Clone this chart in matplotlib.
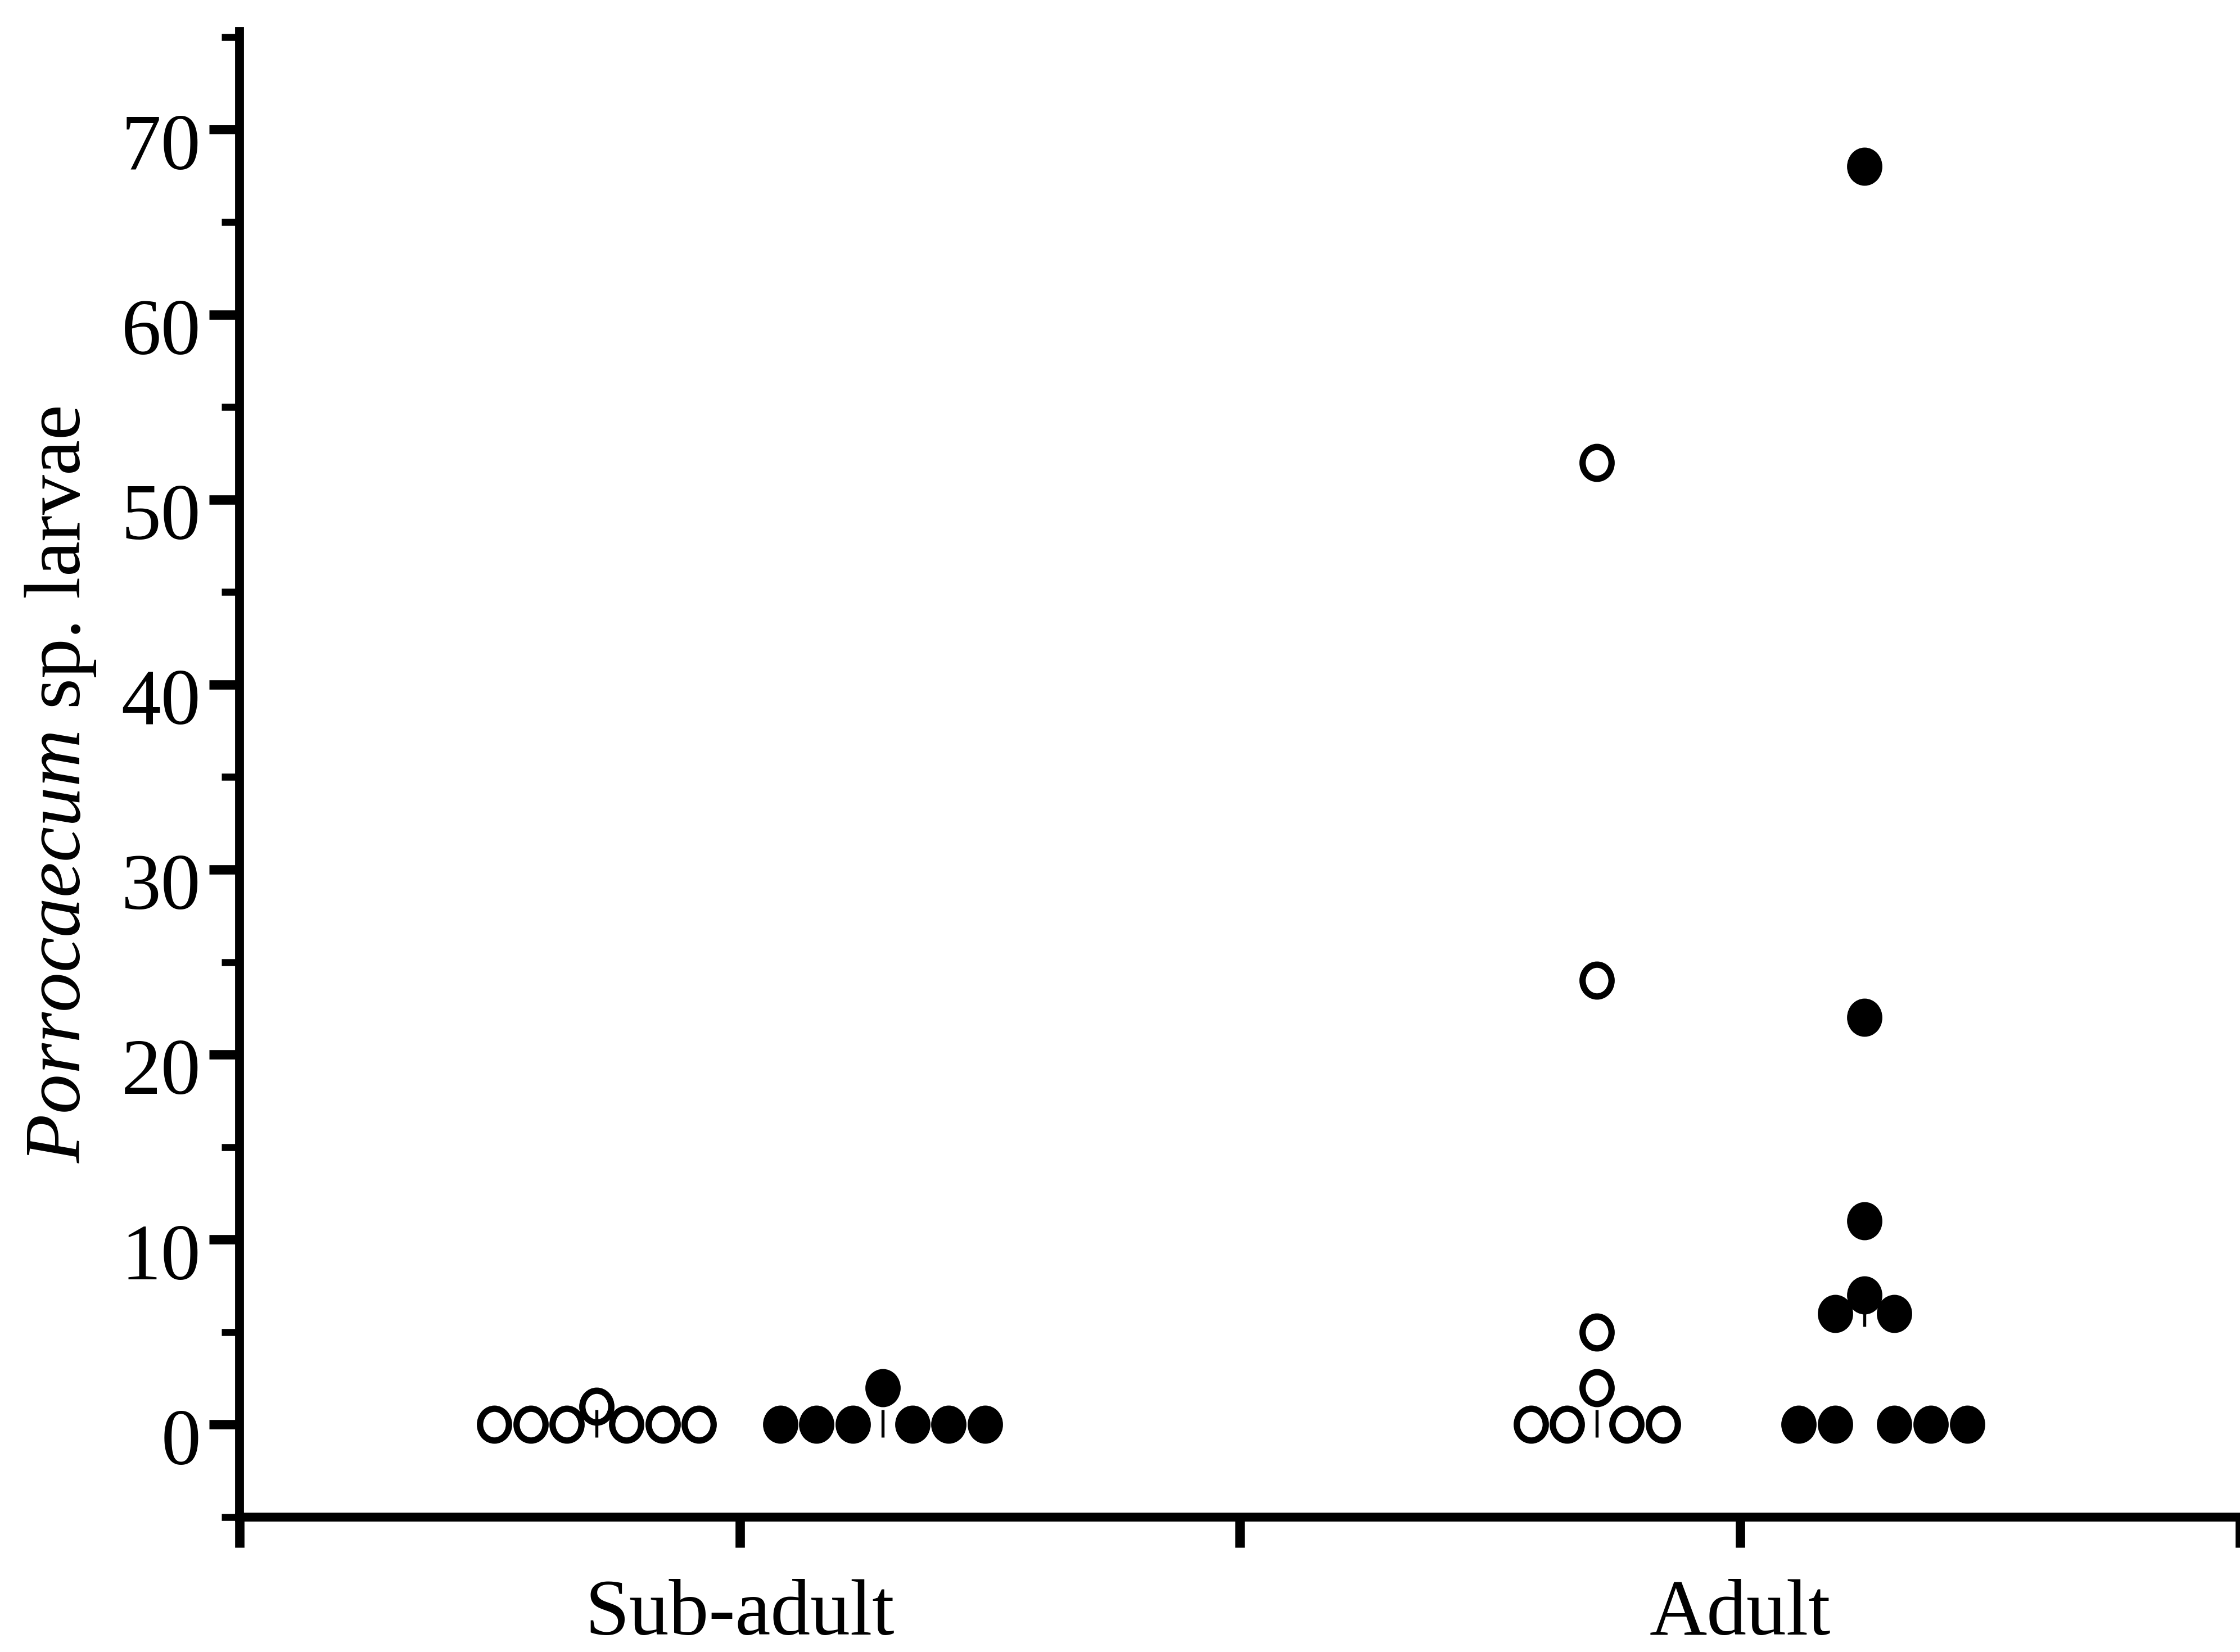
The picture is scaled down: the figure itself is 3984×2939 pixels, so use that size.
import numpy as np
import matplotlib
matplotlib.use('Agg')
import matplotlib.pyplot as plt
from matplotlib.path import Path
from matplotlib.markers import MarkerStyle
from matplotlib.transforms import Affine2D, ScaledTranslation
from matplotlib.ticker import FixedLocator, MultipleLocator

# ---------------- data ----------------
categories = ['Sub-adult', 'Adult']
sub_adult_open = [0, 0, 0, 0, 0, 0, 1]
sub_adult_filled = [0, 0, 0, 0, 0, 0, 2]
adult_open = [0, 0, 0, 0, 2, 5, 24, 52]
adult_filled = [0, 0, 0, 0, 0, 6, 6, 7, 11, 22, 68]
y_ticks = [0, 10, 20, 30, 40, 50, 60, 70]
y_label = r'$\mathit{Porrocaecum}$' + ' sp. larvae'

# ---------------- style ----------------
plt.rcParams['font.family'] = ['Liberation Serif', 'DejaVu Serif']
plt.rcParams['mathtext.fontset'] = 'custom'
plt.rcParams['mathtext.it'] = 'Liberation Serif:italic'
plt.rcParams['mathtext.rm'] = 'Liberation Serif'

W, H, DPI = 3984, 2939, 300
FS = 34
fig = plt.figure(figsize=(W / DPI, H / DPI), dpi=DPI)
ax_left = 426 / W
ax_bottom = (H - 2699) / H
ax_w = 1 - ax_left
ax_h = (2699 - 56) / H
ax = fig.add_axes([ax_left, ax_bottom, ax_w, ax_h])
ax.set_xlim(0.5, 2.5)
ax.set_ylim(-5, 75.3)

px_per_x = ax_w * W / 2.0
gap_px, step_px = 52.7, 64.8
dodge = 0.143

ell = Path.unit_circle().transformed(Affine2D().scale(1.0, 1.1))
marker = MarkerStyle(ell)


def swarm(vals, center_x):
    vals = np.asarray(vals, float)
    offs = np.zeros(len(vals))
    for v in np.unique(vals):
        idx = np.where(vals == v)[0]
        n = len(idx)
        if n == 1:
            continue
        nl = n // 2
        nr = n - nl
        o = [-(gap_px + k * step_px) for k in range(nl)][::-1] + \
            [gap_px + k * step_px for k in range(nr)]
        offs[idx] = o
    shift = (offs.min() + offs.max()) / 2
    c = center_x - shift / px_per_x
    return c + offs / px_per_x, c


groups = [
    (1, -dodge, sub_adult_open, 'white'),
    (1, +dodge, sub_adult_filled, 'black'),
    (2, -dodge, adult_open, 'white'),
    (2, +dodge, adult_filled, 'black'),
]

for cat_x, off, vals, face in groups:
    xs, c = swarm(vals, cat_x + off)
    ax.plot(xs, vals, ls='none', marker=marker, ms=13.6, mew=2.7,
            mfc=face, mec='black', zorder=3, clip_on=False)
    med = np.percentile(vals, 50, method='lower')
    ax.plot([c, c], [med - 0.7, med + 0.8], color='black', lw=1.3,
            zorder=4, solid_capstyle='butt')

# ---------------- axes ----------------
for s in ['top', 'right']:
    ax.spines[s].set_visible(False)
for s in ['left', 'bottom']:
    ax.spines[s].set_linewidth(3.8)

ax.yaxis.set_major_locator(FixedLocator(y_ticks))
ax.yaxis.set_minor_locator(MultipleLocator(5))
ax.tick_params(axis='y', which='major', direction='out', length=13, width=4,
               pad=3.5, labelsize=FS)
ax.tick_params(axis='y', which='minor', direction='out', length=7.7, width=3)

ax.set_xticks([0.5, 1, 1.5, 2, 2.5])
ax.set_xticklabels(['', categories[0], '', categories[1], ''])
ax.tick_params(axis='x', which='major', direction='out', length=13, width=4,
               pad=13.5, labelsize=FS)

for lab in ax.get_yticklabels():
    lab.set_transform(lab.get_transform() +
                      ScaledTranslation(0, -21 / DPI, fig.dpi_scale_trans))

ax.set_ylabel(y_label, fontsize=FS)
ax.yaxis.label.set_va('baseline')
ax.yaxis.set_label_coords((142 - 426) / (ax_w * W), (2699 - 1396) / (ax_h * H))

fig.savefig('out.png', dpi=DPI)
